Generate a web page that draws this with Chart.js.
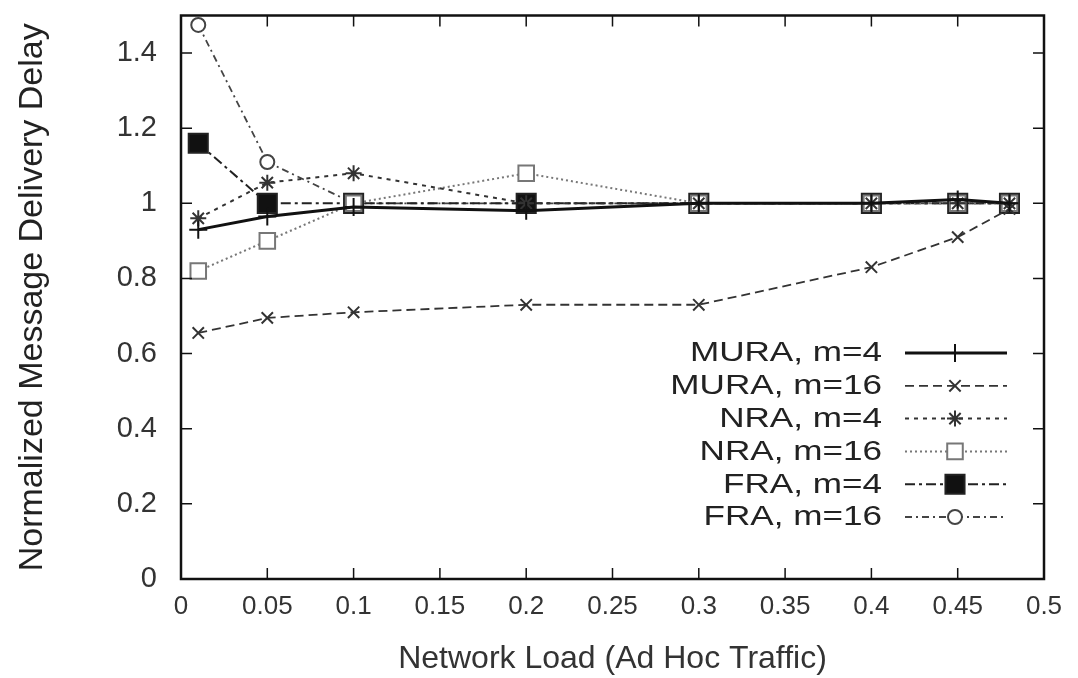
<!DOCTYPE html>
<html>
<head>
<meta charset="utf-8">
<script src="https://cdn.jsdelivr.net/npm/chart.js@4.4.1/dist/chart.umd.min.js"></script>
<style>
html, body { margin: 0; padding: 0; background: #fff; }
#wrap { width: 1078px; height: 678px; }
</style>
</head>
<body>
<div id="wrap"><canvas id="delayChart"></canvas></div>
<script>
// network load (x) and normalized delay per scheme
var loads   = [0.01, 0.05, 0.1, 0.2, 0.3, 0.4, 0.45, 0.48];
var muraM4  = [0.93, 0.965, 0.99, 0.98, 1.0, 1.0, 1.01, 1.0];
var muraM16 = [0.655, 0.695, 0.71, 0.73, 0.73, 0.83, 0.91, 0.985];
var nraM4   = [0.96, 1.055, 1.08, 1.0, 1.0, 1.0, 1.0, 1.0];
var nraM16  = [0.82, 0.90, 1.0, 1.08, 1.0, 1.0, 1.0, 1.0];
var fraM4   = [1.16, 1.0, 1.0, 1.0, 1.0, 1.0, 1.0, 1.0];
var fraM16  = [1.475, 1.11, 1.0, 1.0, 1.0, 1.0, 1.0, 1.0];

var seriesNames = ["MURA, m=4", "MURA, m=16", "NRA, m=4", "NRA, m=16", "FRA, m=4", "FRA, m=16"];
var xTicks = [0, 0.05, 0.1, 0.15, 0.2, 0.25, 0.3, 0.35, 0.4, 0.45, 0.5];
var yTicks = [0, 0.2, 0.4, 0.6, 0.8, 1, 1.2, 1.4];

var FONT = "'Liberation Sans', Arial, sans-serif";

function pts(vals) {
  return vals.map(function (v, i) { return { x: loads[i], y: v }; });
}

function series(label, vals, color, width, dash, style, radius, fill) {
  return {
    label: label,
    data: pts(vals),
    borderColor: color,
    borderWidth: width,
    borderDash: dash,
    pointStyle: style,
    pointRadius: radius,
    pointHoverRadius: radius,
    pointBorderColor: color,
    pointBorderWidth: 2,
    pointBackgroundColor: fill,
    fill: false,
    tension: 0
  };
}

var datasets = [
  series(seriesNames[0], muraM4,  '#111', 3,   [],            'cross',    9,   '#111'),
  series(seriesNames[1], muraM16, '#333', 1.8, [9, 5],        'crossRot', 8,   '#333'),
  series(seriesNames[2], nraM4,   '#333', 2,   [4, 5],        'star',     8,   '#333'),
  series(seriesNames[3], nraM16,  '#777', 2,   [2, 3],        'rect',     11,  '#fff'),
  series(seriesNames[4], fraM4,   '#222', 2,   [10, 4, 3, 4], 'rect',     13.5,'#111'),
  series(seriesNames[5], fraM16,  '#444', 1.8, [7, 4, 2, 4],  'circle',   7,   '#fff')
];

// box around the plot with inward ticks on all four sides
var frame = {
  id: 'frame',
  afterDatasetsDraw: function (chart) {
    var ctx = chart.ctx, a = chart.chartArea;
    var xs = chart.scales.x, ys = chart.scales.y;
    ctx.save();
    ctx.strokeStyle = '#111';
    ctx.lineWidth = 1.5;
    ctx.beginPath();
    xTicks.forEach(function (v) {
      var px = xs.getPixelForValue(v);
      ctx.moveTo(px, a.bottom); ctx.lineTo(px, a.bottom - 11);
      ctx.moveTo(px, a.top);    ctx.lineTo(px, a.top + 11);
    });
    yTicks.forEach(function (v) {
      var py = ys.getPixelForValue(v);
      ctx.moveTo(a.left, py);  ctx.lineTo(a.left + 11, py);
      ctx.moveTo(a.right, py); ctx.lineTo(a.right - 11, py);
    });
    ctx.stroke();
    ctx.lineWidth = 2.5;
    ctx.strokeRect(a.left, a.top, a.right - a.left, a.bottom - a.top);
    ctx.restore();
  }
};

// key inside the plot: right-aligned names, line sample with marker
var keyBox = {
  id: 'keyBox',
  afterDraw: function (chart) {
    var ctx = chart.ctx;
    var textRight = 882, lineL = 905, lineR = 1007, markX = 955;
    var top = 353, step = 32.8, stretch = 1.3;
    ctx.save();
    ctx.font = '27px ' + FONT;
    ctx.textAlign = 'right';
    ctx.textBaseline = 'middle';
    chart.data.datasets.forEach(function (ds, i) {
      var y = top + i * step;
      ctx.save();
      ctx.translate(textRight, y + 1);
      ctx.scale(stretch, 1);
      ctx.fillStyle = '#222';
      ctx.fillText(ds.label, 0, 0);
      ctx.restore();
      ctx.strokeStyle = ds.borderColor;
      ctx.lineWidth = ds.borderWidth;
      ctx.setLineDash(ds.borderDash);
      ctx.beginPath();
      ctx.moveTo(lineL, y); ctx.lineTo(lineR, y);
      ctx.stroke();
      ctx.setLineDash([]);
      if (Chart.helpers && Chart.helpers.drawPoint) {
        ctx.fillStyle = ds.pointBackgroundColor;
        ctx.strokeStyle = ds.pointBorderColor;
        ctx.lineWidth = ds.pointBorderWidth;
        Chart.helpers.drawPoint(ctx, { pointStyle: ds.pointStyle, radius: ds.pointRadius, rotation: 0, borderWidth: ds.pointBorderWidth }, markX, y);
      }
    });
    ctx.restore();
  }
};

var ctx = document.getElementById('delayChart').getContext('2d');
var delayChart = new Chart(ctx, {
  type: 'line',
  data: { datasets: datasets },
  options: {
    responsive: true,
    maintainAspectRatio: false,
    animation: false,
    layout: { padding: { left: 0, right: 34, top: 10, bottom: 0 } },
    plugins: {
      legend: { display: false },
      tooltip: { enabled: false }
    },
    scales: {
      x: {
        type: 'linear',
        min: 0,
        max: 0.5,
        afterBuildTicks: function (s) { s.ticks = xTicks.map(function (v) { return { value: v }; }); },
        afterFit: function (s) { s.height = 99; s.paddingLeft = 0; s.paddingRight = 0; },
        grid: { display: false, drawTicks: false },
        border: { display: false },
        ticks: {
          padding: 12,
          color: '#333',
          font: { family: FONT, size: 26 },
          maxRotation: 0,
          callback: function (v) { return String(+v.toFixed(2)); }
        },
        title: {
          display: true,
          text: 'Network Load (Ad Hoc Traffic)',
          color: '#333',
          font: { family: FONT, size: 32 },
          padding: { top: 0, bottom: 0 }
        }
      },
      y: {
        type: 'linear',
        min: 0,
        max: 1.5,
        afterBuildTicks: function (s) { s.ticks = yTicks.map(function (v) { return { value: v }; }); },
        afterFit: function (s) { s.width = 181; s.paddingTop = 0; s.paddingBottom = 0; },
        grid: { display: false, drawTicks: false },
        border: { display: false },
        ticks: {
          padding: 24,
          color: '#333',
          font: { family: FONT, size: 29 },
          callback: function (v) { return String(+v.toFixed(2)); }
        },
        title: {
          display: true,
          text: 'Normalized Message Delivery Delay',
          color: '#222',
          font: { family: FONT, size: 34 },
          padding: { top: 12, bottom: 0 }
        }
      }
    }
  },
  plugins: [frame, keyBox]
});
</script>
</body>
</html>
